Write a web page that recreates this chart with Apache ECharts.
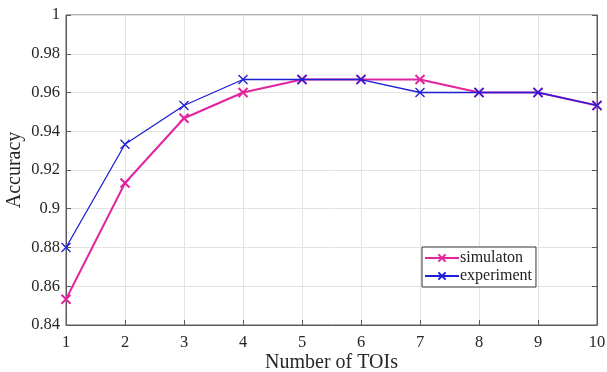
<!DOCTYPE html>
<html>
<head>
<meta charset="utf-8">
<script src="https://cdn.jsdelivr.net/npm/echarts@6/dist/echarts.min.js"></script>
<style>
  html, body { margin: 0; padding: 0; background: #fff; }
  #chart { width: 607px; height: 372px; }
</style>
</head>
<body>
<div id="chart"></div>
<script>
var tois = [1, 2, 3, 4, 5, 6, 7, 8, 9, 10]
var simulaton = [0.8533, 0.9133, 0.9467, 0.96, 0.9667, 0.9667, 0.9667, 0.96, 0.96, 0.9533]
var experiment = [0.88, 0.9333, 0.9533, 0.9667, 0.9667, 0.9667, 0.96, 0.96, 0.96, 0.9533]

var pink = '#e2259f'
var blue = '#1f1fd6'
var cross = 'path://M0,0L10,10M10,0L0,10'
var font = 'Liberation Serif'

function pairs (ys) {
  return tois.map(function (x, i) { return [x, ys[i]] })
}

function lineSeries (name, ys, color, width) {
  return {
    name: name,
    type: 'line',
    data: pairs(ys),
    symbol: cross,
    symbolSize: 9,
    lineStyle: { color: color, width: width },
    itemStyle: { color: color, borderColor: color, borderWidth: width },
    emphasis: { disabled: true },
    z: name === 'experiment' ? 3 : 2
  }
}

var chart = echarts.init(document.getElementById('chart'))
var option = {
  animation: false,
  textStyle: { fontFamily: font },
  grid: {
    left: 66, right: 10, top: 15, bottom: 47,
    outerBoundsMode: 'none',
    containLabel: false,
    show: true, borderColor: '#5a5a5a', borderWidth: 1
  },
  legend: {
    left: 422, top: 247,
    orient: 'vertical',
    backgroundColor: '#fff',
    borderColor: '#333',
    borderWidth: 1,
    padding: [3, 4, 3, 2],
    itemGap: 2,
    itemWidth: 34,
    itemHeight: 9,
    textStyle: { fontFamily: font, fontSize: 16, color: '#222', padding: [0, 0, 0, -4] },
    data: ['simulaton', 'experiment']
  },
  xAxis: {
    type: 'value',
    min: 1, max: 10, interval: 1,
    name: 'Number of TOIs',
    nameLocation: 'middle',
    nameGap: 28,
    nameMoveOverlap: false,
    nameTextStyle: { fontFamily: font, fontSize: 20, color: '#262626' },
    axisLine: { lineStyle: { color: '#5a5a5a' } },
    axisTick: { inside: true, length: 5, lineStyle: { color: '#5a5a5a' } },
    axisLabel: { fontFamily: font, fontSize: 16.5, color: '#262626', margin: 9 },
    splitLine: { lineStyle: { color: '#e3e3e3' } }
  },
  yAxis: [{
    type: 'value',
    min: 0.84, max: 1, interval: 0.02,
    name: 'Accuracy',
    nameLocation: 'middle',
    nameGap: 41,
    nameMoveOverlap: false,
    nameTextStyle: { fontFamily: font, fontSize: 20, color: '#262626' },
    axisLine: { lineStyle: { color: '#5a5a5a' } },
    axisTick: { inside: true, length: 5, lineStyle: { color: '#5a5a5a' } },
    axisLabel: { fontFamily: font, fontSize: 16.5, color: '#262626', margin: 6 },
    splitLine: { lineStyle: { color: '#e3e3e3' } }
  }, {
    type: 'value',
    position: 'right',
    min: 0.84, max: 1, interval: 0.02,
    axisLine: { show: true, lineStyle: { color: '#5a5a5a' } },
    axisTick: { show: true, inside: true, length: 5, lineStyle: { color: '#5a5a5a' } },
    axisLabel: { show: false },
    splitLine: { show: false }
  }],
  series: [
    lineSeries('simulaton', simulaton, pink, 2),
    lineSeries('experiment', experiment, blue, 1.3)
  ]
}
chart.setOption(option)
</script>
</body>
</html>
